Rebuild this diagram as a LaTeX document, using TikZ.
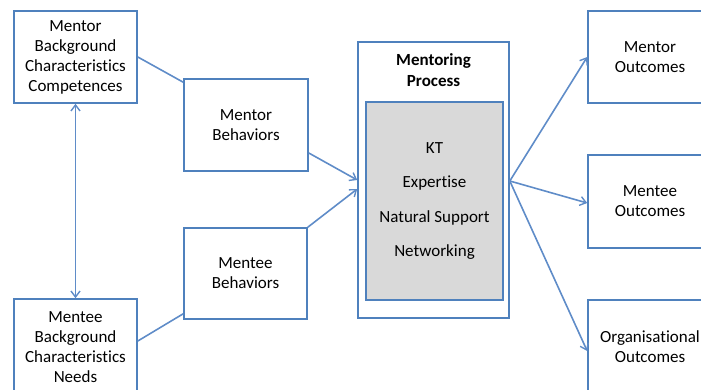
\documentclass[tikz,border=0pt]{standalone}
\usepackage{fontspec}
\setmainfont{Carlito}[Ligatures={NoCommon}]
\usetikzlibrary{arrows.meta}
\definecolor{bblue}{RGB}{79,129,189}
\definecolor{lblue}{RGB}{95,140,200}
\definecolor{gfill}{RGB}{217,217,217}
\begin{document}
\begin{tikzpicture}[x=1pt,y=-1pt,
  box/.style={draw=bblue,line width=1.6pt,fill=white,align=center,inner sep=0pt,
    font=\fontsize{17}{20}\selectfont},
  conn/.style={draw=lblue,line width=1.6pt},
  arr/.style={conn,-{Straight Barb[length=6pt,width=9pt,line width=1.4pt]}},
  darr/.style={conn,{Straight Barb[length=6pt,width=9pt,line width=1.4pt]}-{Straight Barb[length=6pt,width=9pt,line width=1.4pt]}}]
\useasboundingbox (0,0) rectangle (701,390);
\clip (0,0) rectangle (701,390);
% left column
\node[box,minimum width=123pt,minimum height=92pt] (mbg) at (75.5,57) {Mentor\\Background\\Characteristics\\Competences};
\node[box,minimum width=123pt,minimum height=96pt] (mtbg) at (75.5,347) {Mentee\\Background\\Characteristics\\Needs};
% behaviors
\node[box,minimum width=124pt,minimum height=92pt] (mbeh) at (246,125) {Mentor\\Behaviors};
\node[box,minimum width=123pt,minimum height=91pt] (tbeh) at (245.5,273.5) {Mentee\\Behaviors};
% process
\node[box,minimum width=151pt,minimum height=276pt] (proc) at (433.5,180) {};
\node[font=\bfseries\fontsize{17}{21}\selectfont,align=center] (ptitle) at (433.5,70.5) {Mentoring\\Process};
\node[draw=bblue,line width=1.6pt,fill=gfill,minimum width=137pt,minimum height=198pt,inner sep=0pt,
  align=center,font=\fontsize{17}{34.5}\selectfont] (inner) at (434.5,201) {KT\\Expertise\\Natural Support\\Networking};
% outcomes
\node[box,minimum width=124pt,minimum height=92pt] (mout) at (650,57) {Mentor\\Outcomes};
\node[box,minimum width=124pt,minimum height=93pt] (tout) at (650,201.5) {Mentee\\Outcomes};
\node[box,minimum width=124pt,minimum height=94pt] (oout) at (650,347) {Organisational\\Outcomes};
% connectors
\draw[darr] (mbg.south) -- (mtbg.north);
\draw[conn] (mbg.east) -- ([yshift=-4pt]mbeh.north west);
\draw[conn] ([yshift=6pt]mtbg.east) -- ([yshift=6pt]tbeh.south west);
\draw[arr] ([yshift=-28pt]mbeh.east) -- (proc.west);
\draw[arr] (tbeh.north east) -- ([yshift=-9pt]proc.west);
\coordinate (pout) at ([yshift=-1pt]proc.east);
\draw[arr] (pout) -- (mout.west);
\draw[arr] (pout) -- ([yshift=-1.5pt]tout.west);
\draw[arr] (pout) -- ([yshift=-4pt]oout.west);
\end{tikzpicture}
\end{document}
